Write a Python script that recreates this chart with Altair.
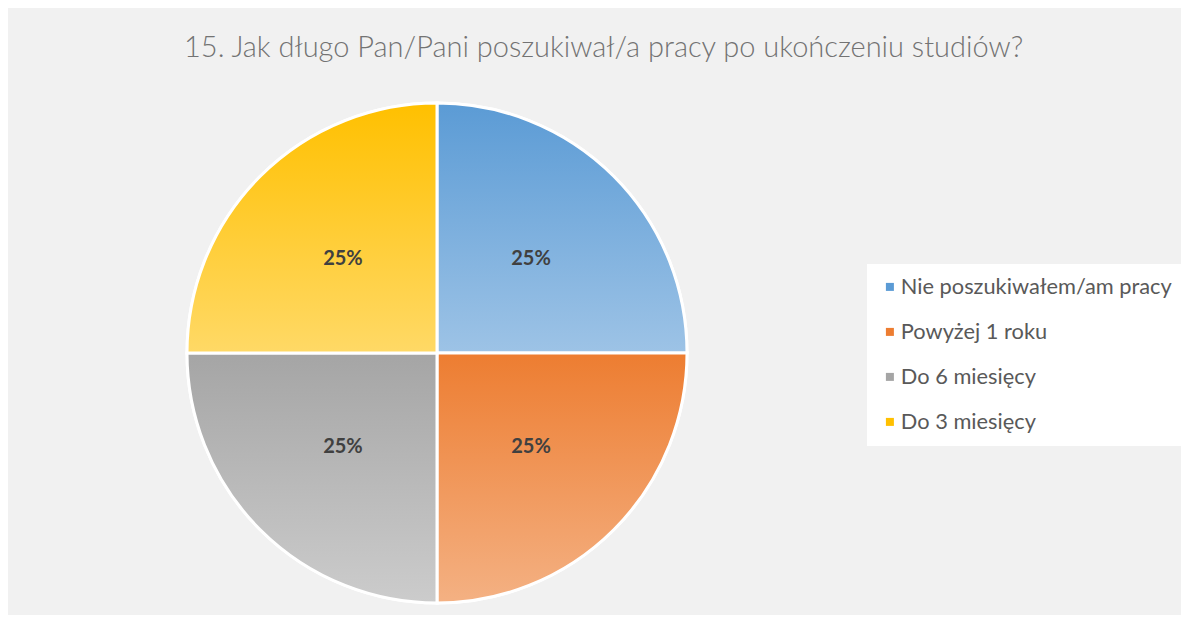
import altair as alt
import pandas as pd

categories = ["Nie poszukiwałem/am pracy", "Powyżej 1 roku", "Do 6 miesięcy", "Do 3 miesięcy"]
shares = [25, 25, 25, 25]
labels = ["25%", "25%", "25%", "25%"]
base_colors = ["#5b9bd5", "#ed7d31", "#a5a5a5", "#ffc000"]
light_colors = ["#9dc3e6", "#f4b183", "#cccccc", "#ffd966"]
title_text = "15. Jak długo Pan/Pani poszukiwał/a pracy po ukończeniu studiów?"

df = pd.DataFrame({"cat": categories, "share": shares, "label": labels,
                   "idx": list(range(len(categories)))})


def grad(c1, c2):
    return {"gradient": "linear", "x1": 0, "y1": 0, "x2": 0, "y2": 1,
            "stops": [{"offset": 0, "color": c1}, {"offset": 1, "color": c2}]}


base = alt.Chart(df).encode(
    theta=alt.Theta("share:Q", stack=True),
    order=alt.Order("idx:Q"),
)

legend_layer = base.mark_arc(stroke="white", strokeWidth=3).encode(
    color=alt.Color(
        "cat:N",
        sort=categories,
        scale=alt.Scale(domain=categories, range=base_colors),
        legend=alt.Legend(
            orient="none", legendX=680, legendY=161, title=None,
            fillColor="white", padding=12, symbolType="square", symbolSize=64,
            symbolStrokeWidth=0, labelFont="Lato", labelFontSize=21.8,
            labelColor="#595959", rowPadding=22, labelOffset=0, labelLimit=0,
        ),
    )
)

conds = [{"test": f"datum.idx === {i}", "value": grad(base_colors[i], light_colors[i])}
         for i in range(len(categories) - 1)]
grad_layer = base.mark_arc(stroke="white", strokeWidth=3).encode(
    fill=alt.FillValue(value=grad(base_colors[-1], light_colors[-1]), condition=conds)
)

text_layer = base.mark_text(radius=133, font="Lato", fontSize=20, fontWeight="bold",
                            color="#404040").encode(text="label:N")

chart = alt.layer(legend_layer, grad_layer, text_layer).properties(
    width=500,
    height=500,
    title=alt.Title(title_text, anchor="start", font="Lato", fontSize=29,
                    color="#737373", fontWeight=300, offset=34, dx=3),
    autosize=alt.AutoSizeParams(type="none"),
    padding={"left": 179, "top": 95, "right": 494, "bottom": 12},
    background="#f1f1f1",
).configure_view(stroke=None)

chart.save("out.html", embed_options={"renderer": "svg", "actions": False})
